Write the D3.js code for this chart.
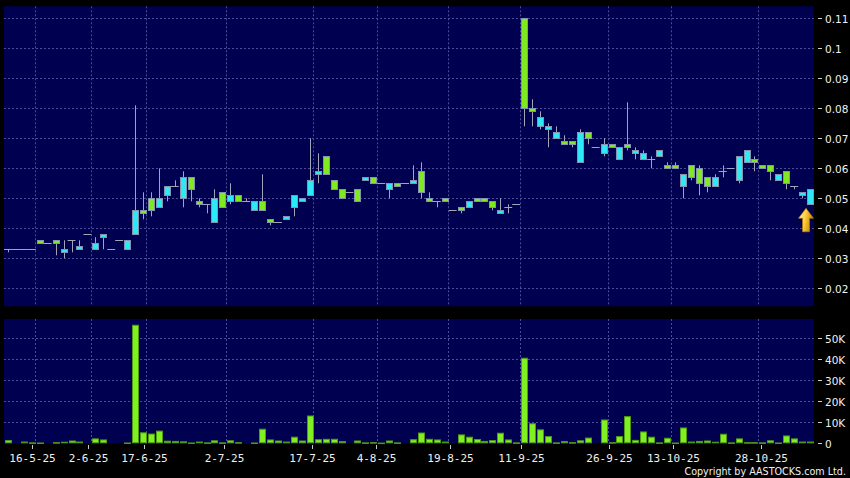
<html>
  <head>
    <script src="https://cdn.jsdelivr.net/npm/d3@7/dist/d3.min.js"></script>
    <style>
      body { margin: 0; background: #000; }
      text { font-family: "DejaVu Sans", sans-serif; fill: #f0f0f0; }
    </style>
  </head>
  <body>
    <svg id="chart" width="850" height="478"></svg>
    <script>
      // daily bars, oldest first
      var opens = [
        .033,.033,.033,.033,.036,.035,.036,.032,.036,.033,
        .038,.033,.037,.033,.036,.033,.038,.046,.050,.047,
        .051,.054,.050,.057,.049,.048,.042,.052,.049,.051,
        .049,.046,.049,.043,.042,.043,.047,.049,.051,.058,
        .064,.056,.053,.052,.053,.056,.057,.055,.053,.055,
        .055,.055,.059,.050,.049,.050,.046,.047,.047,.050,
        .050,.049,.045,.047,.048,.110,.080,.074,.073,.070,
        .069,.069,.062,.072,.067,.065,.068,.063,.068,.065,
        .063,.063,.064,.061,.061,.054,.061,.060,.057,.054,
        .059,.060,.056,.062,.063,.061,.061,.056,.059,.054,
        .051,.048];
      var highs = [
        .033,.033,.033,.033,.036,.035,.036,.036,.036,.036,
        .038,.037,.038,.033,.036,.036,.081,.052,.052,.060,
        .054,.056,.059,.057,.050,.048,.053,.052,.055,.051,
        .050,.049,.058,.043,.042,.044,.051,.050,.070,.065,
        .064,.056,.053,.052,.053,.057,.057,.055,.055,.055,
        .055,.061,.062,.052,.049,.050,.046,.047,.049,.050,
        .050,.049,.050,.048,.048,.110,.083,.079,.075,.074,
        .071,.069,.073,.072,.067,.070,.068,.067,.082,.067,
        .066,.064,.066,.062,.062,.058,.061,.061,.057,.058,
        .061,.060,.064,.066,.064,.061,.061,.058,.059,.054,
        .052,.053];
      var lows = [
        .032,.033,.033,.033,.035,.035,.031,.030,.032,.033,
        .038,.033,.033,.033,.036,.033,.038,.043,.044,.047,
        .049,.054,.047,.049,.047,.045,.042,.047,.048,.049,
        .049,.046,.046,.041,.042,.043,.044,.049,.051,.055,
        .058,.053,.050,.052,.049,.056,.055,.055,.050,.054,
        .055,.055,.050,.049,.047,.049,.046,.045,.047,.049,
        .049,.046,.045,.045,.048,.074,.074,.073,.067,.070,
        .068,.067,.062,.068,.067,.064,.067,.063,.066,.063,
        .063,.060,.064,.060,.060,.050,.056,.051,.052,.054,
        .057,.060,.055,.062,.059,.060,.056,.056,.053,.053,
        .050,.048];
      var closes = [
        .033,.033,.033,.033,.035,.035,.035,.033,.036,.034,
        .038,.035,.038,.033,.036,.036,.046,.045,.046,.050,
        .054,.054,.057,.053,.048,.048,.050,.047,.051,.049,
        .049,.049,.046,.042,.042,.044,.051,.050,.056,.059,
        .058,.053,.050,.052,.049,.057,.055,.055,.055,.054,
        .055,.056,.052,.049,.049,.049,.046,.046,.049,.049,
        .049,.047,.046,.047,.048,.080,.079,.077,.074,.072,
        .068,.068,.072,.070,.067,.068,.067,.067,.067,.066,
        .065,.063,.066,.060,.060,.058,.057,.055,.054,.057,
        .059,.060,.064,.066,.062,.060,.059,.058,.055,.054,
        .052,.053];
      var volumes = [
        1300,0,600,200,150,0,300,500,1100,600,
        0,2100,1600,0,0,150,56200,5000,4400,5800,
        1000,900,700,150,600,200,1200,200,1200,300,
        0,150,6700,1600,1100,600,2900,1100,13000,1700,
        1900,1900,800,0,1100,200,300,100,1100,200,
        0,1700,4900,1900,1600,600,0,4000,2900,1800,
        900,1300,4800,1600,200,40500,9300,6400,3200,200,
        800,300,1200,2500,0,11100,300,3200,12700,1400,
        5400,2900,200,2400,150,7300,600,900,1100,500,
        4300,200,2100,300,300,200,1200,150,3500,2100,
        600,600];

      var dateLabels = ["16-5-25","2-6-25","17-6-25","2-7-25","17-7-25","4-8-25",
                        "19-8-25","11-9-25","26-9-25","13-10-25","28-10-25"];
      var dateTickIdx = [3.05,10.1,17.15,27.25,38.3,46.4,55.6,64.65,75.7,83.8,94.8];
      var dateGridIdx = [3.45,10.5,17.4,27.5,38.45,46.5,55.45,64.5,75.5,83.55,94.5];
      var priceTicks = [0.02,0.03,0.04,0.05,0.06,0.07,0.08,0.09,0.1,0.11];
      var volTicks = [0,10000,20000,30000,40000,50000];
      var volTickLabels = ["0","10K","20K","30K","40K","50K"];

      var n = opens.length;
      var L = 4, R = 814;
      var pTop = 6.3, pBot = 306.3, vTop = 319, vBot = 443.3;
      var gridCol = "#4c4c98";

      var x = d3.scaleLinear().domain([-0.5, n - 0.5]).range([L, R]);
      var step = x(1) - x(0);
      var y = d3.scaleLinear().domain([0.014, 0.114]).range([pBot, pTop]);
      var yv = d3.scaleLinear().domain([0, 59190]).range([vBot, vTop]);

      var svg = d3.select("#chart");
      svg.append("rect").attr("x", L).attr("y", pTop).attr("width", R - L).attr("height", pBot - pTop).attr("fill", "#000050");
      svg.append("rect").attr("x", L).attr("y", vTop).attr("width", R - L).attr("height", vBot - vTop).attr("fill", "#000050");

      // grid
      var g = svg.append("g").attr("stroke", gridCol).attr("stroke-dasharray", "2,2").attr("stroke-width", 1);
      priceTicks.forEach(function (p) {
        var yy = Math.round(y(p)) + 0.5;
        g.append("line").attr("x1", L).attr("x2", R).attr("y1", yy).attr("y2", yy);
      });
      volTicks.slice(1).forEach(function (v) {
        var yy = Math.round(yv(v)) + 0.5;
        g.append("line").attr("x1", L).attr("x2", R).attr("y1", yy).attr("y2", yy);
      });
      dateGridIdx.forEach(function (i) {
        var xx = Math.round(x(i)) + 0.5;
        g.append("line").attr("x1", xx).attr("x2", xx).attr("y1", pTop).attr("y2", pBot);
        g.append("line").attr("x1", xx).attr("x2", xx).attr("y1", vTop).attr("y2", vBot);
      });

      // candles
      var c = svg.append("g");
      for (var i = 0; i < n; i++) {
        var cx = Math.round(x(i)) + 0.5;
        var o = opens[i], cl = closes[i];
        if (highs[i] > lows[i]) {
          c.append("line").attr("x1", cx).attr("x2", cx)
            .attr("y1", y(highs[i])).attr("y2", y(lows[i]))
            .attr("stroke", "#a4a4b8").attr("stroke-width", 1);
        }
        if (o == cl) {
          var yy = Math.round(y(o)) + 0.5;
          c.append("line").attr("x1", x(i) - step / 2).attr("x2", x(i) + step / 2)
            .attr("y1", yy).attr("y2", yy).attr("stroke", "#a4a4b8");
        } else {
          var bTop = Math.round(y(Math.max(o, cl))), bBot = Math.round(y(Math.min(o, cl)));
          c.append("rect").attr("x", cx - 3).attr("y", bTop + 0.5)
            .attr("width", 6).attr("height", bBot - bTop)
            .attr("fill", cl > o ? "#2ee8f6" : "#80ea20")
            .attr("stroke", "#8494ae").attr("stroke-width", 1);
        }
      }

      // volume
      var vg = svg.append("g");
      volumes.forEach(function (v, i) {
        if (v <= 0) return;
        var cx = Math.round(x(i)) + 0.5;
        var vt = yv(v);
        vg.append("rect").attr("x", cx - 3).attr("y", vt)
          .attr("width", 6).attr("height", Math.max(vBot - vt - 0.5, 0.5))
          .attr("fill", "#80f020").attr("stroke", "#4f9a14").attr("stroke-width", 1);
      });

      // arrow under last bar
      var defs = svg.append("defs");
      var gr = defs.append("linearGradient").attr("id", "gold").attr("x1", "0").attr("x2", "1").attr("y1", "0").attr("y2", "0.3");
      gr.append("stop").attr("offset", "0").attr("stop-color", "#fff4a8");
      gr.append("stop").attr("offset", "0.5").attr("stop-color", "#ffd040");
      gr.append("stop").attr("offset", "1").attr("stop-color", "#c88400");
      var ax = x(n - 1) - 4, ay = y(lows[n - 1]) + 4;
      svg.append("path")
        .attr("d", "M0,0 L7.5,10 L3.5,10 L3.5,23.5 L-3.5,23.5 L-3.5,10 L-7.5,10 Z")
        .attr("transform", "translate(" + ax + "," + ay + ")")
        .attr("fill", "url(#gold)").attr("stroke", "#b87a00").attr("stroke-width", 0.6);

      // right axes
      var ax1 = svg.append("g");
      priceTicks.forEach(function (p) {
        var yy = Math.round(y(p)) + 0.5;
        ax1.append("line").attr("x1", 818).attr("x2", 822).attr("y1", yy).attr("y2", yy).attr("stroke", "#d0d0d0");
        ax1.append("text").attr("x", 825).attr("y", yy + 4).style("font-size", "10.5px").text(String(+p.toFixed(2)));
      });
      volTicks.forEach(function (v, k) {
        var yy = Math.round(yv(v)) + 0.5;
        ax1.append("line").attr("x1", 818).attr("x2", 822).attr("y1", yy).attr("y2", yy).attr("stroke", "#d0d0d0");
        ax1.append("text").attr("x", 825).attr("y", yy + 4).style("font-size", "10.5px").text(volTickLabels[k]);
      });

      // date axis
      dateTickIdx.forEach(function (i, k) {
        var xx = Math.round(x(i)) + 0.5;
        svg.append("line").attr("x1", xx).attr("x2", xx).attr("y1", 445).attr("y2", 449).attr("stroke", "#c8c8c8");
        svg.append("text").attr("x", xx).attr("y", 462).attr("text-anchor", "middle")
          .style("font-family", "'DejaVu Sans Mono', monospace").style("font-size", "11px")
          .text(dateLabels[k]);
      });

      svg.append("text").attr("x", 846).attr("y", 475).attr("text-anchor", "end")
        .style("font-size", "9.6px").text("Copyright by AASTOCKS.com Ltd.");
    </script>
  </body>
</html>
